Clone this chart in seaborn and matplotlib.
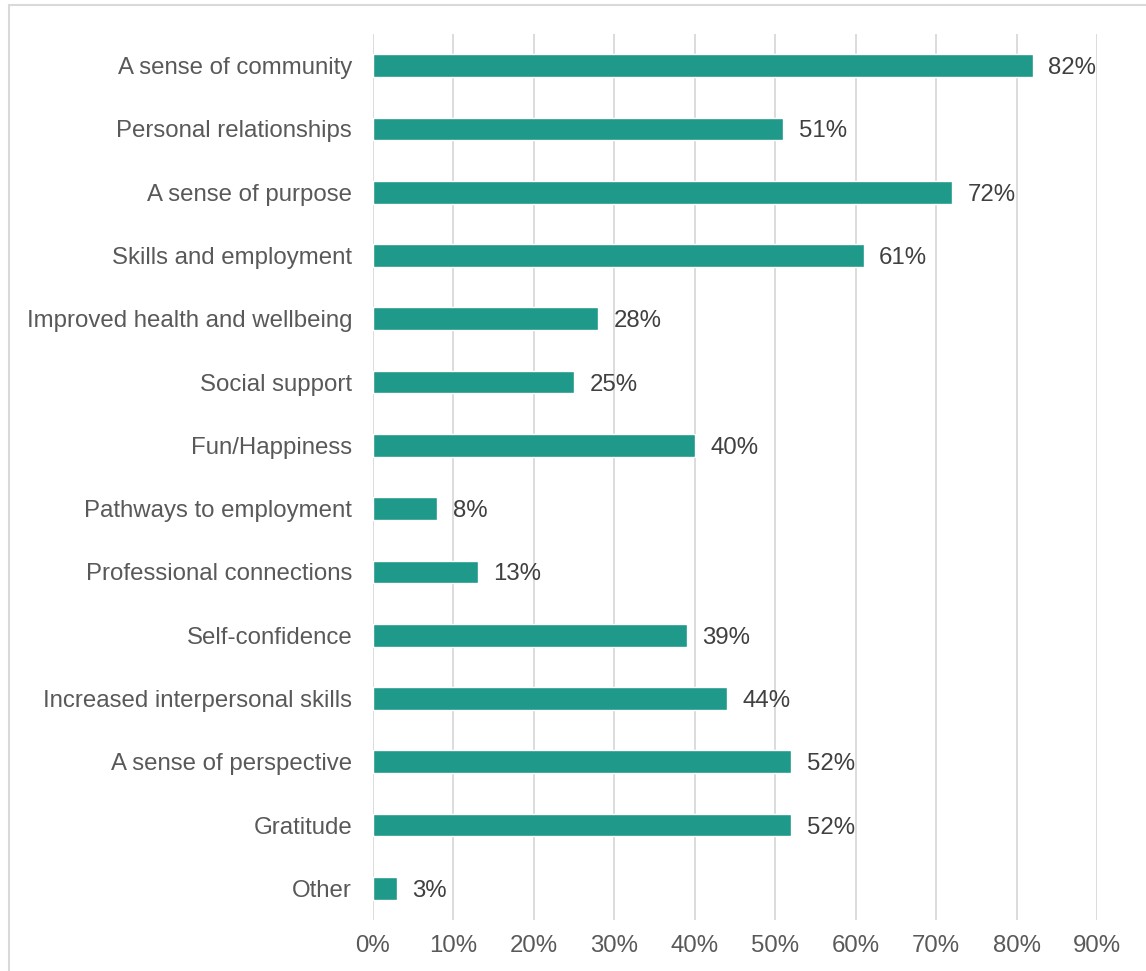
import matplotlib
matplotlib.use("Agg")
import matplotlib.pyplot as plt
from matplotlib.patches import Rectangle
import seaborn as sns
import pandas as pd

categories = [
    "A sense of community",
    "Personal relationships",
    "A sense of purpose",
    "Skills and employment",
    "Improved health and wellbeing",
    "Social support",
    "Fun/Happiness",
    "Pathways to employment",
    "Professional connections",
    "Self-confidence",
    "Increased interpersonal skills",
    "A sense of perspective",
    "Gratitude",
    "Other",
]
values = [82, 51, 72, 61, 28, 25, 40, 8, 13, 39, 44, 52, 52, 3]
tick_values = [0, 10, 20, 30, 40, 50, 60, 70, 80, 90]
tick_labels = [f"{v}%" for v in tick_values]

df = pd.DataFrame({"category": categories, "value": values})

sns.set_theme(style="white")
plt.rcParams["font.family"] = ["Liberation Sans", "DejaVu Sans"]

FS = 17.3

fig = plt.figure(figsize=(11.46, 9.71), dpi=100)
ax = fig.add_axes([373 / 1146, 1 - 920 / 971, (1097 - 373) / 1146, (920 - 34) / 971])

sns.barplot(data=df, y="category", x="value", orient="h", color="#1F998A",
            saturation=1, width=0.36, ax=ax)

ax.set_xlim(0, 90)
ax.set_xticks(tick_values)
ax.set_xticklabels(tick_labels)
ax.set_xlabel("")
ax.set_ylabel("")
ax.grid(axis="x", color="#D9D9D9", linewidth=1.3)
ax.set_axisbelow(True)
for s in ax.spines.values():
    s.set_visible(False)
ax.tick_params(axis="x", length=0, pad=11, labelsize=FS, labelcolor="#595959")
ax.tick_params(axis="y", length=0, pad=15, labelsize=FS, labelcolor="#595959")

for i, v in enumerate(values):
    ax.text(v + 1.9, i, f"{v}%", va="center_baseline", ha="left",
            fontsize=FS, color="#404040")

# thin frame along the top and left edges of the figure
fig.patches.append(Rectangle((8.5 / 1146, -0.1), 1.2, 1 - 5.5 / 971 + 0.1,
                             transform=fig.transFigure, fill=False,
                             edgecolor="#D9D9D9", linewidth=1.5))

fig.savefig("out.png", dpi=100)
